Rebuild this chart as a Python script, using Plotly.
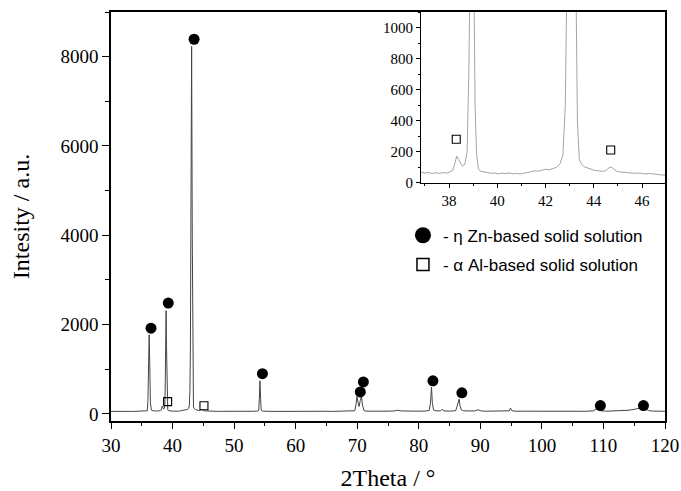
import plotly.graph_objects as go

# ---- data ----
TWO_THETA = [
    30.0, 30.5, 31.0, 31.5, 32.0, 32.5, 33.0, 33.5, 34.0, 34.5, 35.0, 35.5, 35.9,
    36.0, 36.1, 36.2, 36.3, 36.4, 36.55, 36.7, 36.85, 37.0, 37.15, 37.3, 37.45,
    37.6, 37.75, 37.9, 38.05, 38.15, 38.25, 38.32, 38.4, 38.48, 38.55, 38.65,
    38.75, 38.82, 38.88, 38.95, 39.02, 39.08, 39.14, 39.22, 39.3, 39.45, 39.6,
    39.75, 39.9, 40.05, 40.2, 40.35, 40.5, 40.65, 40.8, 40.95, 41.1, 41.25, 41.4,
    41.55, 41.7, 41.85, 42.0, 42.15, 42.3, 42.45, 42.6, 42.72, 42.82, 42.9, 42.97,
    43.1, 43.2, 43.26, 43.32, 43.4, 43.5, 43.6, 43.75, 43.9, 44.05, 44.2, 44.35,
    44.5, 44.6, 44.68, 44.76, 44.85, 45.0, 45.15, 45.3, 45.5, 45.7, 45.9, 46.1,
    46.3, 46.5, 46.7, 46.9, 47.1, 47.5, 48, 49, 50, 51, 52, 53, 53.8, 54.0, 54.1,
    54.2, 54.3, 54.4, 54.6, 55, 56, 57, 58, 59, 60, 61, 62, 63, 64, 65, 66, 67,
    68, 69, 69.6, 69.8, 69.95, 70.15, 70.3, 70.5, 70.7, 70.85, 71.1, 71.5, 72, 73,
    74, 75, 76, 76.6, 77.2, 78, 79, 80, 81, 81.7, 81.9, 82.07, 82.2, 82.4, 82.8,
    83.5, 83.8, 84.1, 85, 86.0, 86.2, 86.4, 86.56, 86.7, 86.9, 87.3, 88, 89,
    89.65, 90.2, 91, 92, 93, 94, 94.7, 94.9, 95.1, 95.6, 97, 99, 101, 103, 105,
    107, 108.3, 108.7, 108.9, 109.2, 109.6, 110.5, 112, 113, 114, 115, 115.7,
    116.2, 116.8, 117.3, 118, 119, 120,
]
INTENSITY = [
    55, 58, 52, 57, 54, 60, 56, 53, 58, 55, 60, 62, 70,
    300, 1200, 1770, 1100, 250, 85, 72, 70, 64, 68, 60, 66,
    62, 67, 63, 72, 80, 130, 173, 150, 125, 110, 118,
    200, 700, 1500, 2310, 1500, 500, 190, 90, 76, 70, 66,
    62, 64, 58, 63, 60, 65, 59, 62, 57, 63, 66, 72,
    78, 75, 82, 88, 85, 92, 100, 124, 180, 500, 1500, 4000,
    8230, 4000, 1300, 400, 150, 120, 104, 95, 88, 80, 78, 74,
    80, 92, 103, 98, 85, 72, 70, 67, 65, 62, 64, 58,
    61, 56, 55, 50, 52, 55, 57, 54, 56, 55, 57, 58, 62, 75, 350,
    740, 350, 85, 62, 58, 56, 55, 57, 54, 56, 55, 57, 55, 56, 58, 55, 57,
    58, 60, 70, 200, 390, 250, 165, 300, 390, 200, 72, 60, 58, 57,
    58, 60, 65, 80, 65, 60, 58, 60, 62, 75, 250, 600, 250, 85, 65,
    68, 100, 66, 62, 70, 160, 300, 330, 180, 90, 68, 62, 64,
    90, 64, 60, 58, 60, 60, 68, 130, 72, 60, 58, 57, 58, 56, 57,
    58, 65, 85, 110, 90, 68, 60, 62, 68, 80, 100, 125,
    140, 110, 75, 62, 60, 58,
]

# phase markers (main panel)
ETA_X = [36.5, 39.3, 43.5, 54.6, 70.5, 71.0, 82.3, 87.0, 109.5, 116.5]
ETA_Y = [1920, 2480, 8390, 900, 490, 715, 740, 470, 186, 186]
ALPHA_X = [39.2, 45.1]
ALPHA_Y = [275, 180]
# phase markers (inset)
ALPHA_INSET_X = [38.3, 44.7]
ALPHA_INSET_Y = [281, 212]

LEGEND_LABELS = ["- η Zn-based solid solution", "- α Al-based solid solution"]
X_TITLE = "2Theta / °"
Y_TITLE = "Intesity / a.u."

SERIF = "Liberation Serif, Times New Roman, serif"
SANS = "Liberation Sans, Arial, sans-serif"

fig = go.Figure()

# main pattern
fig.add_trace(go.Scatter(x=TWO_THETA, y=INTENSITY, mode="lines",
                         line=dict(color="#444444", width=1),
                         xaxis="x", yaxis="y", showlegend=False, hoverinfo="skip"))
fig.add_trace(go.Scatter(x=ETA_X, y=ETA_Y, mode="markers",
                         marker=dict(symbol="circle", size=11, color="black"),
                         xaxis="x", yaxis="y", showlegend=False))
fig.add_trace(go.Scatter(x=ALPHA_X, y=ALPHA_Y, mode="markers",
                         marker=dict(symbol="square-open", size=8, color="black",
                                     line=dict(width=1.1, color="black")),
                         xaxis="x", yaxis="y", showlegend=False))

# inset
fig.add_trace(go.Scatter(x=TWO_THETA, y=INTENSITY, mode="lines",
                         line=dict(color="#8c8c8c", width=0.8),
                         xaxis="x2", yaxis="y2", showlegend=False, hoverinfo="skip"))
fig.add_trace(go.Scatter(x=ALPHA_INSET_X, y=ALPHA_INSET_Y, mode="markers",
                         marker=dict(symbol="square-open", size=8, color="black",
                                     line=dict(width=1.1, color="black")),
                         xaxis="x2", yaxis="y2", showlegend=False))

# legend entries
fig.add_trace(go.Scatter(x=[None], y=[None], mode="markers", name=LEGEND_LABELS[0],
                         marker=dict(symbol="circle", size=16, color="black"),
                         legendgroup="eta", showlegend=True))
fig.add_trace(go.Scatter(x=[None], y=[None], mode="markers", name=LEGEND_LABELS[1],
                         marker=dict(symbol="square-open", size=12, color="black",
                                     line=dict(width=1.5, color="black")),
                         legendgroup="alpha", showlegend=True))

axis_common = dict(showline=True, linecolor="black", showgrid=False, zeroline=False,
                   ticks="outside", tickcolor="black", automargin=False)

fig.update_layout(
    width=681, height=491,
    margin=dict(l=111, r=16, t=12, b=70),
    paper_bgcolor="white", plot_bgcolor="white",
    xaxis=dict(domain=[0, 1], range=[30, 120], tick0=30, dtick=10,
               linewidth=1.5, mirror=True, ticklen=6, tickwidth=1.3,
               minor=dict(dtick=5, ticklen=3.5, tickwidth=1.2, ticks="outside", tickcolor="black"),
               tickfont=dict(family=SERIF, size=19, color="black"),
               title=dict(text=X_TITLE, font=dict(family=SERIF, size=24, color="black"), standoff=21),
               **axis_common),
    yaxis=dict(domain=[0, 1], range=[-160, 9000], tick0=0, dtick=2000,
               linewidth=1.5, mirror=True, ticklen=7, tickwidth=1.3,
               minor=dict(dtick=1000, ticklen=4, tickwidth=1.2, ticks="outside", tickcolor="black"),
               tickfont=dict(family=SERIF, size=19, color="black"),
               title=dict(text=Y_TITLE, font=dict(family=SERIF, size=24, color="black"), standoff=24),
               **axis_common),
    xaxis2=dict(domain=[0.5596, 1.0], anchor="y2", range=[36.84, 46.95], tick0=38, dtick=2,
                linewidth=1, ticklen=4, tickwidth=1,
                minor=dict(dtick=1, ticklen=2.5, tickwidth=1, ticks="outside", tickcolor="black"),
                tickfont=dict(family=SERIF, size=15, color="black"),
                **axis_common),
    yaxis2=dict(domain=[0.582, 1.0], anchor="x2", range=[0, 1100], tick0=0, dtick=200,
                linewidth=1, ticklen=4, tickwidth=1,
                minor=dict(dtick=100, ticklen=2.5, tickwidth=1, ticks="outside", tickcolor="black"),
                tickfont=dict(family=SERIF, size=15, color="black"),
                **axis_common),
    legend=dict(x=0.527, y=0.497, xanchor="left", yanchor="top",
                bgcolor="rgba(0,0,0,0)", borderwidth=0,
                font=dict(family=SANS, size=17, color="black"),
                traceorder="grouped", tracegroupgap=4, itemwidth=30),
    showlegend=True,
)

fig.write_html("out.html")
